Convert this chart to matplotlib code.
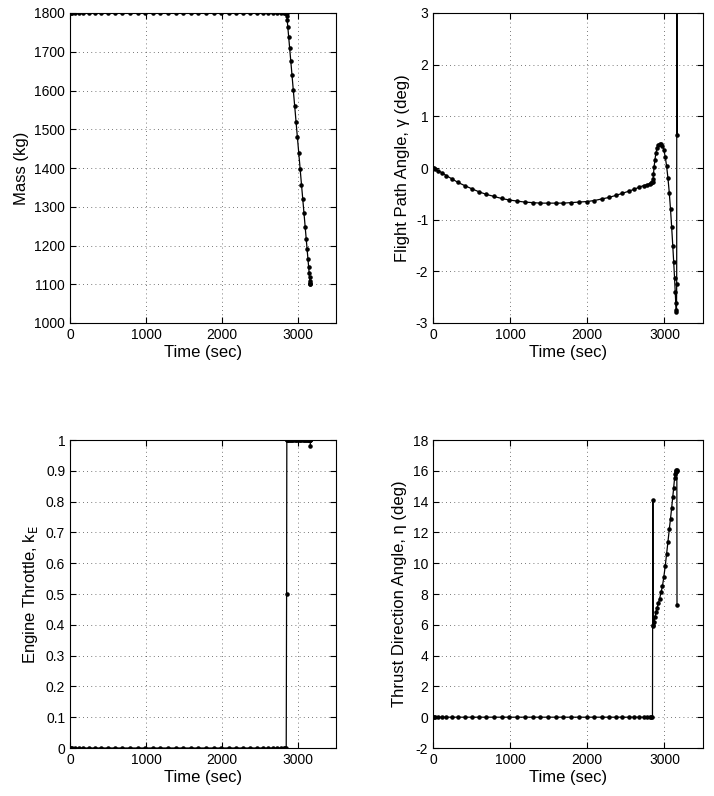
import numpy as np
import matplotlib
matplotlib.use("Agg")
import matplotlib.pyplot as plt
from matplotlib.ticker import FormatStrFormatter

plt.rcParams.update({
    "font.family": ["Liberation Sans", "DejaVu Sans"],
    "font.size": 10,
    "axes.labelsize": 12,
    "xtick.labelsize": 10,
    "ytick.labelsize": 10,
    "xtick.direction": "in",
    "ytick.direction": "in",
    "xtick.top": True,
    "ytick.right": True,
    "axes.linewidth": 0.8,
})

# time nodes (s): coast phase, junction node, burn phase
t_coast = [0, 8, 30, 65, 115, 175, 245, 325, 410, 500, 595, 690, 790, 890, 990,
           1090, 1190, 1290, 1390, 1490, 1590, 1690, 1790, 1890, 1990, 2090, 2185,
           2280, 2370, 2455, 2535, 2610, 2675, 2730, 2775, 2810, 2832, 2845]
t_link = [2850]
t_burn = [2853, 2858, 2866, 2877, 2890, 2905, 2921, 2938, 2956, 2974, 2992, 3010,
          3028, 3046, 3063, 3079, 3094, 3108, 3120, 3131, 3140, 3147, 3152, 3156,
          3159, 3161, 3163]

# mass (kg)
mass_coast = [1800] * len(t_coast)
mass_link = [1800]
mass_burn = [1793, 1782, 1764, 1739, 1710, 1676, 1640, 1601, 1561, 1520, 1479, 1439,
             1398, 1357, 1319, 1283, 1249, 1217, 1190, 1165, 1145, 1129, 1118, 1109,
             1102, 1100, 1100]

# flight path angle (deg)
gamma_coast = [0.0, -0.005, -0.02, -0.05, -0.09, -0.15, -0.21, -0.28, -0.34, -0.40,
               -0.46, -0.51, -0.55, -0.59, -0.62, -0.64, -0.66, -0.67, -0.68, -0.68,
               -0.68, -0.68, -0.67, -0.66, -0.65, -0.63, -0.60, -0.57, -0.53, -0.49,
               -0.45, -0.41, -0.37, -0.34, -0.32, -0.30, -0.29, -0.28]
gamma_link = [-0.27]
gamma_burn = [-0.22, -0.12, 0.02, 0.16, 0.29, 0.39, 0.45, 0.47, 0.47, 0.43, 0.35, 0.22,
              0.04, -0.20, -0.48, -0.80, -1.15, -1.50, -1.82, -2.12, -2.40, -2.62, -2.74,
              -2.78, -2.25, 6.0, 0.63]

# engine throttle
kE_coast = [0.0] * len(t_coast)
kE_link = [0.5]
kE_burn = [1.0] * 26 + [0.98]

# thrust direction angle (deg)
eta_coast = [0.0] * len(t_coast)
eta_link = [14.1]
eta_burn = [5.9, 6.0, 6.2, 6.5, 6.8, 7.1, 7.4, 7.7, 8.1, 8.5, 9.1, 9.8, 10.6, 11.4,
            12.2, 12.9, 13.6, 14.3, 14.9, 15.5, 15.8, 15.95, 16.0, 16.05, 16.05, 16.0, 7.3]

t = t_coast + t_link + t_burn
mass = mass_coast + mass_link + mass_burn
gamma = gamma_coast + gamma_link + gamma_burn
kE = kE_coast + kE_link + kE_burn
eta = eta_coast + eta_link + eta_burn

fig = plt.figure(figsize=(7.14, 7.96), dpi=100)
W, H = 714, 796
boxes = [(70, 13, 266, 310), (433, 13, 270, 310), (70, 440, 266, 308), (433, 440, 270, 308)]
axes = [fig.add_axes([x / W, 1 - (y + h) / H, w / W, h / H]) for x, y, w, h in boxes]

panels = [
    (mass, "Mass (kg)", (1000, 1800), np.arange(1000, 1801, 100), "%d"),
    (gamma, "Flight Path Angle, \u03b3 (deg)", (-3, 3), np.arange(-3, 4, 1), "%d"),
    (kE, r"Engine Throttle, k$_\mathrm{E}$", (0, 1), np.arange(0, 1.01, 0.1), "%g"),
    (eta, "Thrust Direction Angle, \u03b7 (deg)", (-2, 18), np.arange(-2, 19, 2), "%d"),
]

for ax, (y, ylab, ylim, yt, fmt) in zip(axes, panels):
    ax.plot(t, y, color="black", linewidth=0.9, marker=".", markersize=4.5)
    ax.set_xlim(0, 3500)
    ax.set_ylim(*ylim)
    ax.set_xticks([0, 1000, 2000, 3000])
    ax.set_yticks(yt)
    ax.yaxis.set_major_formatter(FormatStrFormatter(fmt))
    ax.grid(True, linestyle=(0, (1, 4)), color="black", linewidth=0.6, alpha=0.7)
    ax.set_xlabel("Time (sec)", labelpad=2)
    ax.set_ylabel(ylab)
    ax.tick_params(length=4, width=0.8)

fig.savefig("out.png", dpi=100)
